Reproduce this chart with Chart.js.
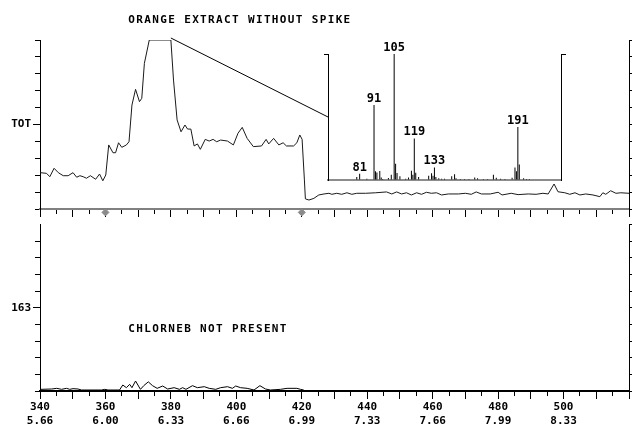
<!DOCTYPE html>
<html lang="en">
<head>
<meta charset="utf-8">
<title>Orange extract without spike</title>
<script src="https://cdn.jsdelivr.net/npm/chart.js@4.4.1/dist/chart.umd.min.js"></script>
<style>
    html, body { margin: 0; padding: 0; background: #fff; }
    #page { position: relative; width: 634px; height: 427px; overflow: hidden; }
    #page canvas { position: absolute; }
</style>
</head>
<body>
<div id="page">
    <canvas id="chart-tot" style="left:0;top:0;width:634px;height:222px" width="634" height="222"></canvas>
    <canvas id="chart-ion" style="left:0;top:216px;width:634px;height:211px" width="634" height="211"></canvas>
    <canvas id="chart-spectrum" style="left:150px;top:30px;width:450px;height:160px" width="450" height="160"></canvas>
</div>
<script>
/**
 * Orange extract without spike - TOT chromatogram, ion 163 trace and apex spectrum
 */

// scan axis labels (scan number / retention time)
const SCAN_TICKS = [340, 360, 380, 400, 420, 440, 460, 480, 500];
const TIME_TICKS = ['5.66', '6.00', '6.33', '6.66', '6.99', '7.33', '7.66', '7.99', '8.33'];

// total ion trace, % of full scale
const totScans = [340.0, 342.0, 343.0, 344.3, 345.6, 347.1, 348.6, 350.1, 351.2, 352.2, 353.2, 354.2, 355.4, 357.0,
    358.2, 359.2, 360.1, 361.0, 362.3, 363.1, 364.0, 365.0, 366.4, 367.2, 368.1, 369.2, 370.4, 371.1, 371.9, 373.4,
    380.0, 380.8, 381.9, 383.1, 384.3, 385.1, 386.1, 387.1, 388.1, 389.0, 390.5, 391.7, 392.9, 394.0, 395.2, 397.3,
    399.1, 400.5, 401.8, 403.3, 405.2, 407.7, 409.1, 409.9, 411.4, 413.0, 414.3, 415.3, 417.5, 418.5, 419.4, 420.1,
    420.8, 421.1, 422.2, 423.7, 425.2, 426.8, 428.3, 429.2, 430.7, 432.2, 433.8, 435.3, 436.8, 439.5, 442.6, 445.9,
    447.5, 449.0, 450.5, 452.0, 453.5, 455.1, 456.6, 458.1, 459.6, 461.2, 462.7, 464.8, 467.9, 470.0, 471.8, 473.3,
    474.9, 477.6, 480.0, 481.2, 484.0, 486.1, 489.2, 491.6, 493.7, 495.3, 497.1, 498.3, 500.4, 501.9, 503.5, 505.0,
    506.8, 509.0, 511.1, 512.0, 512.9, 514.4, 516.0, 517.5, 520.0];
const totValues = [21.5, 21.1, 19.1, 24.1, 21.5, 19.7, 19.7, 21.5, 18.8, 19.7, 19.1, 18.2, 19.7, 17.6,
    20.7, 16.7, 20.1, 37.9, 33.3, 33.3, 39.2, 36.5, 37.9, 39.8, 61.5, 70.8, 63.5, 65.5, 86.2, 100,
    100, 76.3, 52.7, 45.7, 49.7, 47.3, 47.3, 37.3, 38.5, 35.3, 41.2, 40.2, 41.2, 39.8, 40.8, 40.2,
    37.9, 44.8, 48.3, 41.8, 36.9, 37.3, 41.2, 38.5, 41.8, 37.9, 39.2, 37.3, 37.3, 39.2, 43.8, 41.2,
    17.2, 6.0, 5.3, 6.3, 8.3, 8.9, 9.3, 8.7, 9.3, 8.7, 9.6, 8.7, 9.3, 9.3, 9.6, 10.1,
    8.9, 10.1, 8.9, 9.6, 8.3, 9.6, 8.7, 9.9, 9.3, 9.6, 8.3, 8.9, 8.9, 9.3, 8.7, 10.1,
    8.9, 8.9, 9.9, 8.3, 9.3, 8.5, 8.9, 8.7, 9.3, 8.9, 14.8, 10.2, 9.6, 8.7, 9.6, 8.3,
    8.9, 8.3, 7.3, 9.6, 8.7, 10.8, 9.3, 9.6, 9.3];

// ion 163 trace
const ionScans = [340.3, 343.6, 345.1, 346.6, 348.1, 349.1, 350.1, 351.6, 352.7, 358.8, 359.8, 360.8, 364.3, 365.3,
    366.4, 367.4, 368.1, 369.2, 370.7, 371.7, 373.1, 374.4, 375.8, 377.5, 379.0, 381.0, 382.6, 383.6, 384.6, 386.6,
    388.1, 390.2, 391.7, 393.7, 395.2, 397.3, 398.8, 399.8, 401.3, 403.3, 405.4, 407.2, 408.9, 410.4, 413.5, 415.5,
    418.5, 419.6, 420.6];
const ionValues = [1.0, 1.2, 1.6, 1.0, 1.6, 1.0, 1.4, 1.2, 0.6, 0.6, 1.0, 0.6, 0.6, 3.6,
    2.0, 4.0, 2.0, 6.0, 1.0, 3.2, 5.5, 3.2, 1.6, 3.0, 1.2, 2.0, 1.0, 2.0, 1.0, 3.2,
    2.0, 2.6, 1.6, 1.0, 2.0, 2.6, 1.6, 3.0, 2.0, 1.6, 0.6, 3.2, 1.2, 0.6, 1.0, 1.6,
    1.6, 1.0, 0.6];

// diamond markers on the scan axis
const markerScans = [360, 420];

// spectrum of the apex scan (m/z, relative abundance %)
const spectrumScan = 380;
const msMz = [79, 81, 86, 91, 92, 93, 95, 96, 97, 101, 103, 105, 106, 107, 109, 113, 115, 117, 118, 119,
    120, 122, 129, 131, 132, 133, 134, 136, 138, 140, 145, 147, 148, 151, 154, 157, 161, 163, 167, 170,
    174, 176, 179, 182, 187, 189, 190, 191, 192, 195, 197, 199];
const msAbund = [2.4, 5, 1, 59.6, 6.9, 6, 7.1, 2, 0.8, 1.6, 4.2, 100, 12.9, 5.5, 2.9, 1, 2, 7.4, 4.2, 33,
    5.8, 2.4, 3.4, 5.3, 3.4, 10, 2.4, 1.3, 1, 1, 2.9, 4.5, 1.3, 0.8, 0.8, 0.8, 2, 1.3, 0.8, 0.8,
    4.2, 1.8, 1, 0.8, 1.8, 10, 6.9, 42, 12.4, 1.3, 0.8, 0.8];
const msLabels = [81, 91, 105, 119, 133, 191];

const FONT = 'DejaVu Sans Mono';
const HIDDEN = 'rgba(0,0,0,0)';

function points(xs, ys) {
    return xs.map((x, i) => ({ x, y: ys[i] }));
}

// free text drawn at a (scan, level) position
const captionPlugin = {
    id: 'caption',
    afterDraw(chart, args, opts) {
        if (!opts || !opts.text) return;
        const { ctx, scales } = chart;
        ctx.save();
        ctx.font = `bold 11px "${FONT}"`;
        ctx.letterSpacing = '1.35px';
        ctx.fillStyle = '#000';
        ctx.textBaseline = 'alphabetic';
        ctx.fillText(opts.text, scales.x.getPixelForValue(opts.scan), scales.y.getPixelForValue(opts.level));
        ctx.restore();
    }
};

function scanAxis(showLabels, height, borderColor) {
    return {
        type: 'linear',
        min: 340,
        max: 520,
        afterFit: s => { s.height = height; },
        border: { color: borderColor, width: 2 },
        grid: {
            drawOnChartArea: false,
            tickLength: 8,
            tickColor: '#000',
            tickWidth: 1,
            // long ticks every 10 scans, short ones in between
            tickBorderDash: c => (c.tick && c.tick.value % 10 === 0) ? [] : [4, 100]
        },
        ticks: {
            display: showLabels,
            stepSize: 5,
            autoSkip: false,
            maxRotation: 0,
            padding: 2,
            color: '#000',
            font: { family: FONT, weight: 'bold', size: 11, lineHeight: 1.2 },
            callback: v => {
                const i = SCAN_TICKS.indexOf(v);
                return i < 0 ? '' : [String(v), TIME_TICKS[i]];
            }
        }
    };
}

function levelAxis(label, hideTop) {
    return {
        type: 'linear',
        position: 'left',
        min: 0,
        max: 100,
        afterFit: s => { s.width = 40; },
        border: { color: '#000', width: 1 },
        grid: {
            drawOnChartArea: false,
            tickLength: 7,
            tickColor: c => (hideTop && c.tick && c.tick.value === 100) ? HIDDEN : '#000',
            tickBorderDash: c => (c.tick && c.tick.value === 50) ? [] : [0, 2, 5, 100]
        },
        ticks: {
            stepSize: 10,
            padding: 2,
            color: '#000',
            font: { family: FONT, weight: 'bold', size: 11 },
            callback: v => v === 50 ? label : ''
        }
    };
}

function frameAxis() {
    return {
        type: 'linear',
        position: 'right',
        min: 0,
        max: 100,
        afterFit: s => { s.width = 2; },
        border: { color: '#000', width: 1 },
        grid: { drawOnChartArea: false, tickLength: 3, tickColor: '#000' },
        ticks: { display: false, stepSize: 10 }
    };
}

function baseOptions(padding) {
    return {
        responsive: false,
        animation: false,
        events: [],
        layout: { padding },
        plugins: { legend: { display: false }, tooltip: { enabled: false } }
    };
}

// --- TOT chromatogram ---
const optsTot = baseOptions({ top: 40, left: 0, right: 0, bottom: 0 });
optsTot.plugins.caption = { text: 'ORANGE EXTRACT WITHOUT SPIKE', scan: 367, level: 110.1 };
optsTot.scales = { x: scanAxis(false, 13, '#808080'), y: levelAxis('TOT', false), yr: frameAxis() };

const chartTot = new Chart(document.getElementById('chart-tot'), {
    type: 'line',
    data: {
        datasets: [{
            data: points(totScans, totValues),
            borderColor: '#1a1a1a',
            borderWidth: 1,
            pointRadius: 0,
            tension: 0
        }, {
            data: markerScans.map(x => ({ x, y: -2 })),
            showLine: false,
            pointStyle: 'rectRot',
            pointRadius: 3.5,
            pointBackgroundColor: '#8a8a8a',
            pointBorderColor: '#8a8a8a',
            pointBorderWidth: 1,
            clip: false
        }]
    },
    options: optsTot,
    plugins: [captionPlugin]
});

// --- ion 163 trace ---
const optsIon = baseOptions({ top: 7, left: 0, right: 0, bottom: 0 });
optsIon.plugins.caption = { text: 'CHLORNEB NOT PRESENT', scan: 367, level: 35.2 };
optsIon.scales = { x: scanAxis(true, 36, '#000'), y: levelAxis('163', true), yr: frameAxis() };

const chartIon = new Chart(document.getElementById('chart-ion'), {
    type: 'line',
    data: {
        datasets: [{
            data: points(ionScans, ionValues),
            borderColor: '#000',
            borderWidth: 1,
            pointRadius: 0,
            tension: 0
        }, {
            data: markerScans.map(x => ({ x, y: -3.2 })),
            showLine: false,
            pointStyle: 'rectRot',
            pointRadius: 4,
            pointBackgroundColor: '#b0b0b0',
            pointBorderColor: '#333',
            pointBorderWidth: 1,
            clip: false
        }]
    },
    options: optsIon,
    plugins: [captionPlugin]
});

// --- spectrum inset ---
const spectrumMarks = {
    id: 'spectrumMarks',
    afterDraw(chart) {
        const { ctx, chartArea, scales: { x, y } } = chart;
        ctx.save();
        ctx.font = `bold 12px "${FONT}"`;
        ctx.textAlign = 'center';
        ctx.textBaseline = 'alphabetic';
        ctx.fillStyle = '#000';
        msLabels.forEach(mz => {
            const i = msMz.indexOf(mz);
            ctx.fillText(String(mz), x.getPixelForValue(mz), y.getPixelForValue(msAbund[i]) - 3);
        });

        // line from the chromatogram apex to the spectrum frame
        const dx = chartTot.canvas.offsetLeft - chart.canvas.offsetLeft;
        const dy = chartTot.canvas.offsetTop - chart.canvas.offsetTop;
        ctx.strokeStyle = '#000';
        ctx.lineWidth = 1;
        ctx.beginPath();
        ctx.moveTo(chartTot.scales.x.getPixelForValue(spectrumScan) + dx, chartTot.chartArea.top - 2 + dy);
        ctx.lineTo(chartArea.left, y.getPixelForValue(50));
        ctx.stroke();
        ctx.restore();
    }
};

function bracketAxis(position, width) {
    return {
        type: 'linear',
        position,
        min: 0,
        max: 100,
        afterFit: s => { s.width = width; },
        border: { color: '#000', width: 1 },
        grid: {
            drawOnChartArea: false,
            tickLength: width,
            tickColor: c => (c.tick && c.tick.value === 100) ? '#000' : HIDDEN
        },
        ticks: { display: false, stepSize: 100 }
    };
}

const optsMs = baseOptions({ left: 174, right: 34, top: 24, bottom: 10 });
optsMs.scales = {
    x: {
        type: 'linear',
        min: 59,
        max: 221,
        offset: false,
        afterFit: s => { s.height = 0; },
        border: { color: '#8c8c8c', width: 2 },
        grid: { drawOnChartArea: false, drawTicks: false },
        ticks: { display: false }
    },
    y: bracketAxis('left', 4),
    yr: bracketAxis('right', 5)
};

const chartSpectrum = new Chart(document.getElementById('chart-spectrum'), {
    type: 'bar',
    data: {
        datasets: [{
            data: points(msMz, msAbund),
            backgroundColor: '#000',
            borderWidth: 0,
            barThickness: 1,
            inflateAmount: 0
        }]
    },
    options: optsMs,
    plugins: [spectrumMarks]
});
</script>
</body>
</html>
